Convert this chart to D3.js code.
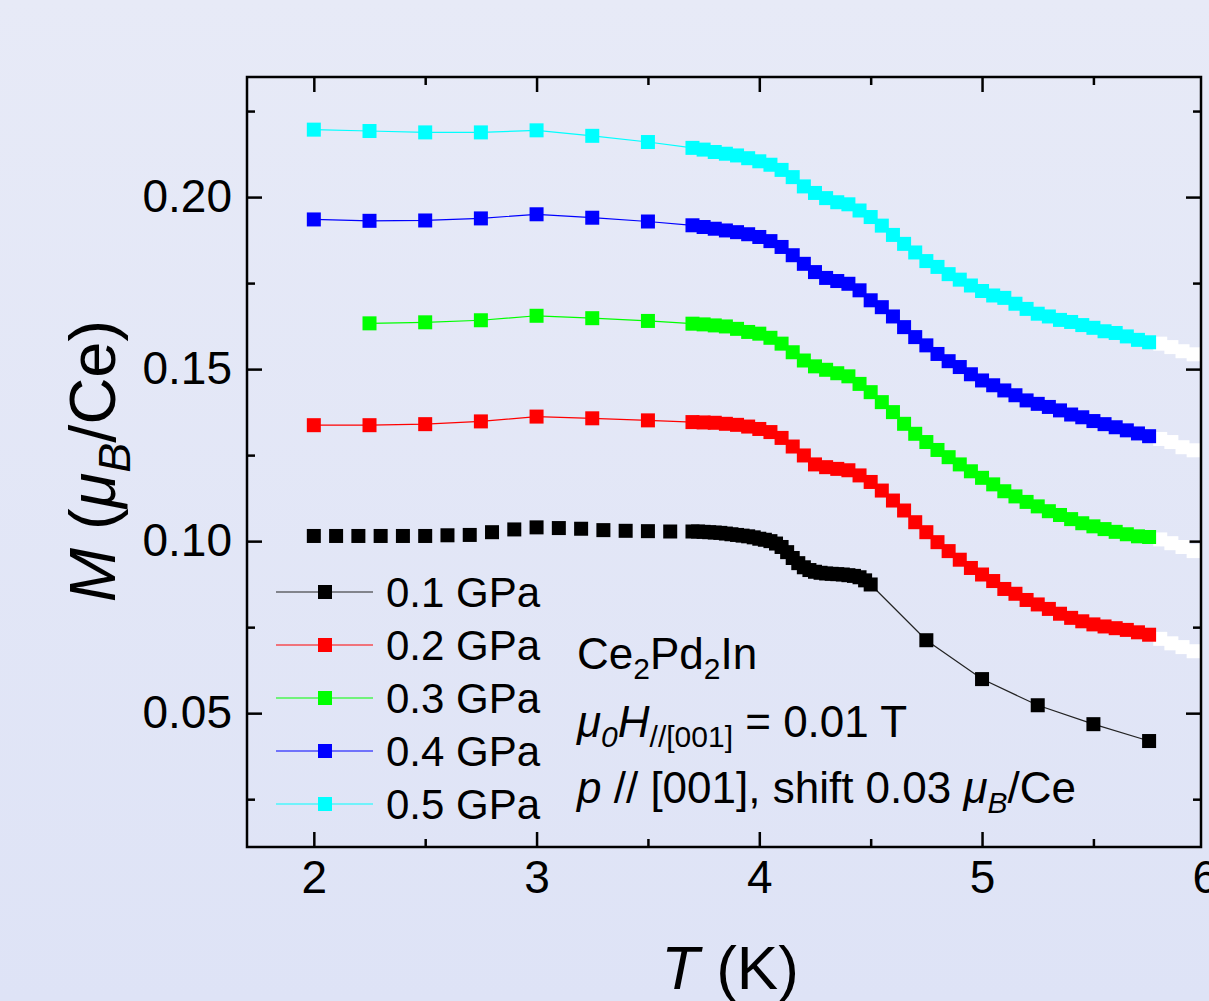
<head>
  <title>Ce2Pd2In M(T) under pressure</title>
  <script src="https://d3js.org/d3.v7.min.js"></script>
  <style>
    body { margin: 0; }
    text { font-family: 'Liberation Sans', Arial, sans-serif; fill: #000; }
  </style>
</head>

<body>
  <svg id='canvas' width='1209' height='1001'></svg>
</body>

<script>
  // ---- data (T in K, M in muB/Ce, already shifted by 0.03 per pressure) ----
  var pressures = ['0.1 GPa', '0.2 GPa', '0.3 GPa', '0.4 GPa', '0.5 GPa'];
  var colors = ['#000000', '#ff0000', '#00ff00', '#0000ff', '#00ffff'];

  var tSparse = [2.0, 2.25, 2.5, 2.75, 3.0, 3.25, 3.5];
  var tSparseGreen = [2.25, 2.5, 2.75, 3.0, 3.25, 3.5];
  var tDense = [3.7, 3.75, 3.8, 3.85, 3.9, 3.95, 4.0, 4.05, 4.1, 4.15,
                4.2, 4.25, 4.3, 4.35, 4.4, 4.45, 4.5, 4.55, 4.6, 4.65,
                4.7, 4.75, 4.8, 4.85, 4.9, 4.95, 5.0, 5.05, 5.1, 5.15,
                5.2, 5.25, 5.3, 5.35, 5.4, 5.45, 5.5, 5.55, 5.6, 5.65,
                5.7, 5.75];
  var tTail = [5.8, 5.85, 5.9, 5.95];

  var tBlackLow = [2.0, 2.1, 2.2, 2.3, 2.4, 2.5, 2.6, 2.7, 2.8, 2.9, 3.0, 3.1, 3.2, 3.3, 3.4, 3.5, 3.6];
  var tBlackDense = [3.7, 3.725, 3.75, 3.775, 3.8, 3.825, 3.85, 3.875, 3.9, 3.925, 3.95, 3.975,
                     4.0, 4.025, 4.05, 4.075, 4.1, 4.125, 4.15, 4.175, 4.2, 4.225, 4.25, 4.275,
                     4.3, 4.325, 4.35, 4.375, 4.4, 4.425, 4.45, 4.475, 4.5];
  var tBlackHigh = [4.75, 5.0, 5.25, 5.5, 5.75];

  var mBlackLow = [0.1015, 0.1015, 0.1015, 0.1015, 0.1015, 0.1015, 0.1017, 0.1018, 0.1026, 0.1034,
                   0.1040, 0.1038, 0.1036, 0.1032, 0.1030, 0.1029, 0.1028];
  var mBlackDense = [0.1028, 0.1028, 0.1027, 0.1026, 0.1025, 0.1024, 0.1022, 0.1020, 0.1018, 0.1016,
                     0.1014, 0.1011, 0.1007, 0.1004, 0.1000, 0.0993, 0.0983, 0.0968, 0.0951, 0.0936,
                     0.0924, 0.0916, 0.0911, 0.0908, 0.0906, 0.0905, 0.0904, 0.0903, 0.0901, 0.0899,
                     0.0895, 0.0886, 0.0874];
  var mBlackHigh = [0.0712, 0.0599, 0.0523, 0.0468, 0.0419];

  var mRedSparse = [0.1337, 0.1337, 0.1340, 0.1348, 0.1362, 0.1357, 0.1351];
  var mRedDense = [0.1346, 0.1345, 0.1344, 0.1341, 0.1338, 0.1333, 0.1326, 0.1317, 0.1300, 0.1275,
                   0.1249, 0.1223, 0.1215, 0.1210, 0.1206, 0.1191, 0.1172, 0.1147, 0.1118, 0.1089,
                   0.1055, 0.1026, 0.0997, 0.0971, 0.0946, 0.0922, 0.0903, 0.0884, 0.0861, 0.0847,
                   0.0829, 0.0816, 0.0803, 0.0789, 0.0777, 0.0767, 0.0758, 0.0752, 0.0747, 0.0742,
                   0.0735, 0.0728];
  var mRedTail = [0.0716, 0.0703, 0.0692, 0.0680];

  var mGreenSparse = [0.1633, 0.1636, 0.1642, 0.1655, 0.1648, 0.1640];
  var mGreenDense = [0.1632, 0.1630, 0.1627, 0.1624, 0.1617, 0.1608, 0.1603, 0.1591, 0.1574, 0.1549,
                     0.1525, 0.1508, 0.1498, 0.1488, 0.1479, 0.1457, 0.1433, 0.1404, 0.1375, 0.1341,
                     0.1312, 0.1288, 0.1265, 0.1244, 0.1223, 0.1203, 0.1184, 0.1165, 0.1145, 0.1130,
                     0.1114, 0.1101, 0.1087, 0.1076, 0.1064, 0.1052, 0.1043, 0.1035, 0.1027, 0.1020,
                     0.1014, 0.1012];
  var mGreenTail = [0.1005, 0.0994, 0.0983, 0.0971];

  var mBlueSparse = [0.1935, 0.1931, 0.1932, 0.1938, 0.1950, 0.1940, 0.1929];
  var mBlueDense = [0.1918, 0.1913, 0.1908, 0.1903, 0.1898, 0.1892, 0.1884, 0.1872, 0.1855, 0.1831,
                    0.1806, 0.1782, 0.1765, 0.1756, 0.1748, 0.1729, 0.1700, 0.1680, 0.1653, 0.1622,
                    0.1593, 0.1569, 0.1544, 0.1523, 0.1506, 0.1485, 0.1467, 0.1453, 0.1438, 0.1424,
                    0.1409, 0.1399, 0.1390, 0.1380, 0.1368, 0.1360, 0.1349, 0.1340, 0.1331, 0.1322,
                    0.1313, 0.1305];
  var mBlueTail = [0.1297, 0.1288, 0.1273, 0.1264];

  var mCyanSparse = [0.2196, 0.2192, 0.2188, 0.2188, 0.2194, 0.2178, 0.2160];
  var mCyanDense = [0.2143, 0.2138, 0.2131, 0.2126, 0.2121, 0.2113, 0.2104, 0.2094, 0.2079, 0.2058,
                    0.2031, 0.2012, 0.1997, 0.1985, 0.1979, 0.1961, 0.1942, 0.1917, 0.1890, 0.1864,
                    0.1839, 0.1814, 0.1797, 0.1776, 0.1760, 0.1743, 0.1727, 0.1714, 0.1707, 0.1690,
                    0.1675, 0.1661, 0.1653, 0.1643, 0.1637, 0.1628, 0.1620, 0.1610, 0.1605, 0.1595,
                    0.1585, 0.1578];
  var mCyanTail = [0.1574, 0.1564, 0.1552, 0.1543];

  var xMajor = [2, 3, 4, 5];
  var xMinor = [2.5, 3.5, 4.5, 5.5];
  var xEdgeLabel = [6];
  var yMajor = [0.05, 0.10, 0.15, 0.20];
  var yMinor = [0.025, 0.075, 0.125, 0.175, 0.225];

  // ---- helpers ----
  function pts(ts, ms) { return ts.map(function(t, i) { return {t: t, m: ms[i]}; }); }

  // markers of every series; for 0.1 GPa only the part above 4.5 K is joined by a line
  var series = [
    pts(tBlackLow, mBlackLow).concat(pts(tBlackDense, mBlackDense), pts(tBlackHigh, mBlackHigh)),
    pts(tSparse, mRedSparse).concat(pts(tDense, mRedDense)),
    pts(tSparseGreen, mGreenSparse).concat(pts(tDense, mGreenDense)),
    pts(tSparse, mBlueSparse).concat(pts(tDense, mBlueDense)),
    pts(tSparse, mCyanSparse).concat(pts(tDense, mCyanDense))
  ];
  var lines = [
    pts(tBlackDense.slice(-1), mBlackDense.slice(-1)).concat(pts(tBlackHigh, mBlackHigh)),
    series[1], series[2], series[3], series[4]
  ];
  var tails = [pts(tTail, mRedTail), pts(tTail, mGreenTail), pts(tTail, mBlueTail), pts(tTail, mCyanTail)];

  var x0 = 247, x1 = 1201, y0 = 77, y1 = 847;
  var ms = 14; // marker size

  var svg = d3.select('#canvas');

  var defs = svg.append('defs');
  var grad = defs.append('linearGradient')
    .attr('id', 'bg').attr('x1', 0).attr('y1', 0).attr('x2', 0).attr('y2', 1);
  grad.append('stop').attr('offset', '0%').attr('stop-color', '#e7eaf7');
  grad.append('stop').attr('offset', '100%').attr('stop-color', '#dee3f6');
  defs.append('clipPath').attr('id', 'plotclip')
    .append('rect').attr('x', x0).attr('y', y0).attr('width', x1 - x0).attr('height', y1 - y0);

  svg.append('rect').attr('width', 1209).attr('height', 1001).attr('fill', 'url(#bg)');

  var x = d3.scaleLinear().domain([1.7, 5.983]).range([x0, x1]);
  var y = d3.scaleLinear().domain([0.0111, 0.2349]).range([y1, y0]);

  // ---- axes (ticks pointing inward on all four sides) ----
  function styleAxis(g) {
    g.select('.domain').remove();
    g.selectAll('line').attr('stroke', '#000').attr('stroke-width', 2.5);
    g.selectAll('text').style('font-size', '46px').attr('fill', '#000');
  }
  svg.append('g').attr('transform', 'translate(0,' + y1 + ')')
    .call(d3.axisBottom(x).tickValues(xMajor).tickSize(-15).tickPadding(13).tickFormat(d3.format('d')))
    .call(styleAxis);
  // the "6" label sits just past the frame edge, without a tick mark
  svg.append('g').attr('transform', 'translate(0,' + y1 + ')')
    .call(d3.axisBottom(x).tickValues(xEdgeLabel).tickSize(0).tickPadding(13).tickFormat(d3.format('d')))
    .call(styleAxis)
    .call(function(g) { g.selectAll('line').remove(); });
  svg.append('g').attr('transform', 'translate(0,' + y1 + ')')
    .call(d3.axisBottom(x).tickValues(xMinor).tickSize(-8).tickFormat(''))
    .call(styleAxis);
  svg.append('g').attr('transform', 'translate(0,' + y0 + ')')
    .call(d3.axisTop(x).tickValues(xMajor).tickSize(-15).tickFormat(''))
    .call(styleAxis);
  svg.append('g').attr('transform', 'translate(0,' + y0 + ')')
    .call(d3.axisTop(x).tickValues(xMinor).tickSize(-8).tickFormat(''))
    .call(styleAxis);
  svg.append('g').attr('transform', 'translate(' + x0 + ',0)')
    .call(d3.axisLeft(y).tickValues(yMajor).tickSize(-15).tickPadding(15).tickFormat(d3.format('.2f')))
    .call(styleAxis);
  svg.append('g').attr('transform', 'translate(' + x0 + ',0)')
    .call(d3.axisLeft(y).tickValues(yMinor).tickSize(-8).tickFormat(''))
    .call(styleAxis);
  svg.append('g').attr('transform', 'translate(' + x1 + ',0)')
    .call(d3.axisRight(y).tickValues(yMajor).tickSize(-15).tickFormat(''))
    .call(styleAxis);
  svg.append('g').attr('transform', 'translate(' + x1 + ',0)')
    .call(d3.axisRight(y).tickValues(yMinor).tickSize(-8).tickFormat(''))
    .call(styleAxis);

  // ---- data ----
  var plot = svg.append('g').attr('clip-path', 'url(#plotclip)');
  var line = d3.line().x(function(d) { return x(d.t); }).y(function(d) { return y(d.m); });

  tails.forEach(function(tl, i) {
    plot.selectAll('.tail' + i).data(tl).enter().append('rect')
      .attr('x', function(d) { return x(d.t) - ms / 2; })
      .attr('y', function(d) { return y(d.m) - ms / 2; })
      .attr('width', ms).attr('height', ms)
      .attr('fill', '#ffffff');
  });

  series.forEach(function(s, i) {
    plot.append('path').datum(lines[i])
      .attr('d', line)
      .attr('fill', 'none')
      .attr('stroke', i == 0 ? '#222' : colors[i])
      .attr('stroke-width', 1.2);
    plot.selectAll('.mk' + i).data(s).enter().append('rect')
      .attr('x', function(d) { return x(d.t) - ms / 2; })
      .attr('y', function(d) { return y(d.m) - ms / 2; })
      .attr('width', ms).attr('height', ms)
      .attr('fill', colors[i]);
  });

  // frame
  svg.append('rect').attr('x', x0).attr('y', y0).attr('width', x1 - x0).attr('height', y1 - y0)
    .attr('fill', 'none').attr('stroke', '#000').attr('stroke-width', 2.5);

  // ---- legend ----
  var legend = svg.append('g');
  pressures.forEach(function(p, i) {
    var ly = 592 + i * 53;
    legend.append('line').attr('x1', 276).attr('x2', 373).attr('y1', ly).attr('y2', ly)
      .attr('stroke', i == 0 ? '#222' : colors[i]).attr('stroke-width', 1.2);
    legend.append('rect').attr('x', 325 - ms / 2).attr('y', ly - ms / 2)
      .attr('width', ms).attr('height', ms).attr('fill', colors[i]);
    legend.append('text').attr('x', 386).attr('y', ly + 15)
      .style('font-size', '42px').text(p);
  });

  // ---- annotation ----
  var note = svg.append('g').style('font-size', '44px');
  var l1 = note.append('text').attr('x', 577).attr('y', 669);
  l1.append('tspan').text('Ce');
  l1.append('tspan').attr('dy', 10).style('font-size', '30px').text('2');
  l1.append('tspan').attr('dy', -10).text('Pd');
  l1.append('tspan').attr('dy', 10).style('font-size', '30px').text('2');
  l1.append('tspan').attr('dy', -10).text('In');

  var l2 = note.append('text').attr('x', 577).attr('y', 737);
  l2.append('tspan').style('font-style', 'italic').text('\u03bc');
  l2.append('tspan').attr('dy', 10).style('font-size', '30px').style('font-style', 'italic').text('0');
  l2.append('tspan').attr('dy', -10).style('font-style', 'italic').text('H');
  l2.append('tspan').attr('dy', 10).style('font-size', '30px').text('//[001]');
  l2.append('tspan').attr('dy', -10).text(' = 0.01 T');

  var l3 = note.append('text').attr('x', 577).attr('y', 803);
  l3.append('tspan').style('font-style', 'italic').text('p');
  l3.append('tspan').text(' // [001], shift 0.03 ');
  l3.append('tspan').style('font-style', 'italic').text('\u03bc');
  l3.append('tspan').attr('dy', 10).style('font-size', '30px').style('font-style', 'italic').text('B');
  l3.append('tspan').attr('dy', -10).text('/Ce');

  // ---- axis titles ----
  var xt = svg.append('text').attr('x', 730).attr('y', 989)
    .attr('text-anchor', 'middle').style('font-size', '62px');
  xt.append('tspan').style('font-style', 'italic').text('T');
  xt.append('tspan').text(' (K)');

  var yt = svg.append('text').attr('transform', 'translate(115,461) rotate(-90)')
    .attr('text-anchor', 'middle').style('font-size', '65px');
  yt.append('tspan').style('font-style', 'italic').text('M');
  yt.append('tspan').text(' (');
  yt.append('tspan').style('font-style', 'italic').text('\u03bc');
  yt.append('tspan').attr('dy', 15).style('font-size', '45px').style('font-style', 'italic').text('B');
  yt.append('tspan').attr('dy', -15).text('/Ce)');
</script>
